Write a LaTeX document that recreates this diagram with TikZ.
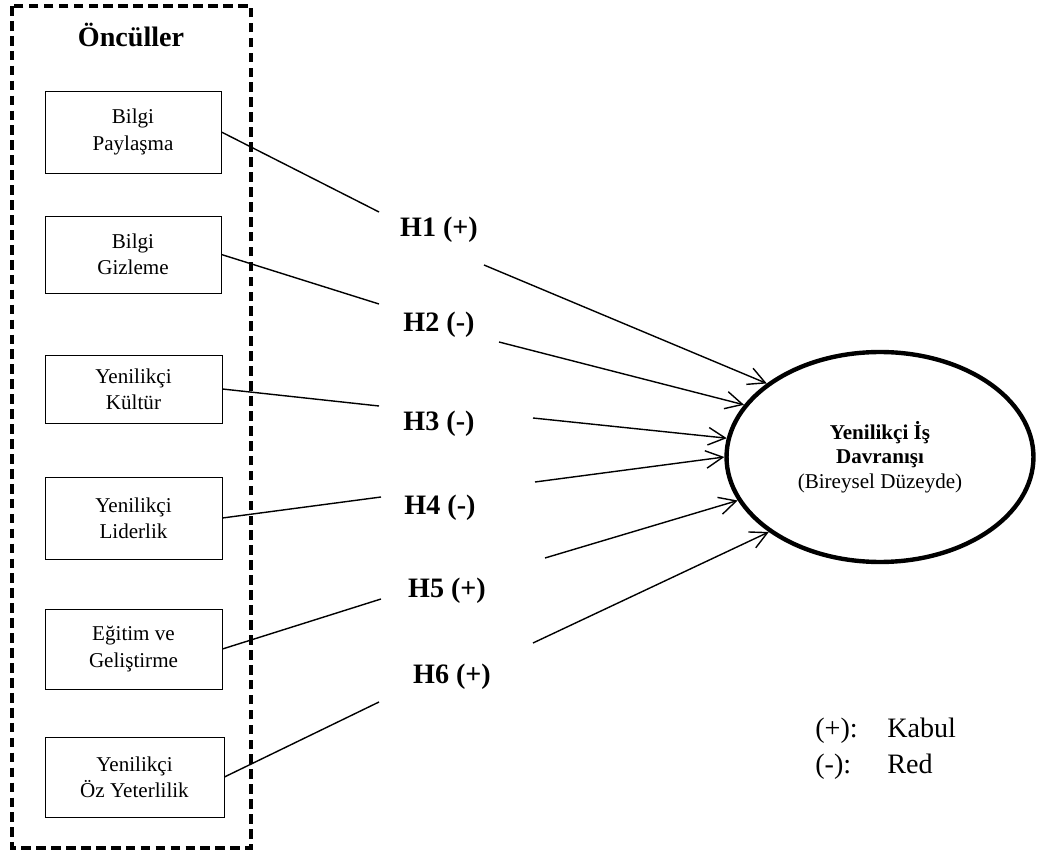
\documentclass[tikz,border=0pt]{standalone}
\usepackage{fontspec}
\setmainfont{Liberation Serif}
\usetikzlibrary{shapes.geometric,arrows.meta}

\tikzset{
  factorbox/.style={draw, line width=0.5pt, minimum width=3.52cm, inner sep=0pt, align=center, font=\fontsize{12}{15}\selectfont},
  hyplabel/.style={anchor=base, font=\fontsize{16}{19}\selectfont\bfseries},
  legendtext/.style={anchor=base west, inner sep=0pt, font=\fontsize{16}{19}\selectfont},
  link/.style={line width=0.8pt},
  linkarrow/.style={line width=0.8pt, -{Straight Barb[length=3.4mm,width=3.5mm]}}
}

\begin{document}
\begin{tikzpicture}[x=0.02cm, y=-0.02cm]

\def \boxx {133}

\useasboundingbox (0,0) rectangle (1039,851);

% dashed frame round the antecedents
\draw [line width=2.3pt, dash pattern=on 5.5pt off 3pt] (12,6) rectangle (251,848);
\node [hyplabel] (onc) at (131,47) {Öncüller};

\node [factorbox, minimum height=1.64cm] (bp) at (\boxx,132) {Bilgi\\Paylaşma};
\node [factorbox, minimum height=1.54cm] (bg) at (\boxx,254.5) {Bilgi\\Gizleme};
\node [factorbox, minimum height=1.36cm, minimum width=3.54cm] (yk) at (\boxx+0.5,389) {Yenilikçi\\Kültür};
\node [factorbox, minimum height=1.64cm, minimum width=3.54cm] (yl) at (\boxx+0.5,518) {Yenilikçi\\Liderlik};
\node [factorbox, minimum height=1.6cm, minimum width=3.54cm] (eg) at (\boxx+0.5,649) {Eğitim ve\\Geliştirme};
\node [factorbox, minimum height=1.6cm, minimum width=3.58cm] (yo) at (\boxx+1.5,777) {Yenilikçi\\Öz Yeterlilik};

\node [draw, ellipse, line width=2.5pt, minimum width=6.14cm, minimum height=4.2cm, inner sep=0pt, align=center, font=\fontsize{12}{13.8}\selectfont] (yid) at (880,457) {\textbf{Yenilikçi İş}\\\textbf{Davranışı}\\(Bireysel Düzeyde)};

\node [hyplabel] (h1) at (439,237) {H1 (+)};
\node [hyplabel] (h2) at (439,332) {H2 (-)};
\node [hyplabel] (h3) at (439,431) {H3 (-)};
\node [hyplabel] (h4) at (440,515) {H4 (-)};
\node [hyplabel] (h5) at (447,598) {H5 (+)};
\node [hyplabel] (h6) at (452,683) {H6 (+)};

\coordinate (h1in) at (379,212);
\coordinate (h1out) at (484,265);
\coordinate (h2in) at (379,304);
\coordinate (h2out) at (499,342);
\coordinate (h3in) at (379,406);
\coordinate (h3out) at (533,418);
\coordinate (h4in) at (381,497);
\coordinate (h4out) at (535,482);
\coordinate (h5in) at (381,599);
\coordinate (h5out) at (545,558);
\coordinate (h6in) at (379,702);
\coordinate (h6out) at (533,643);

\draw [link] (bp.east) -- (h1in);
\draw [link] (bg.east) -- (h2in);
\draw [link] (yk.east) -- (h3in);
\draw [link] (yl.east) -- (h4in);
\draw [link] (eg.east) -- (h5in);
\draw [link] (yo.east) -- (h6in);

\draw [linkarrow] (h1out) -- (yid.147.6);
\draw [linkarrow] (h2out) -- (yid.159.8);
\draw [linkarrow] (h3out) -- (yid.173.5);
\draw [linkarrow] (h4out) -- (yid.180.4);
\draw [linkarrow] (h5out) -- (yid.197.2);
\draw [linkarrow] (h6out) -- (yid.214.6);

\node [legendtext] (kp) at (815,737) {(+):};
\node [legendtext] (kt) at (887,737) {Kabul};
\node [legendtext] (rp) at (815,773) {(-):};
\node [legendtext] (rt) at (887,773) {Red};
\end{tikzpicture}
\end{document}
